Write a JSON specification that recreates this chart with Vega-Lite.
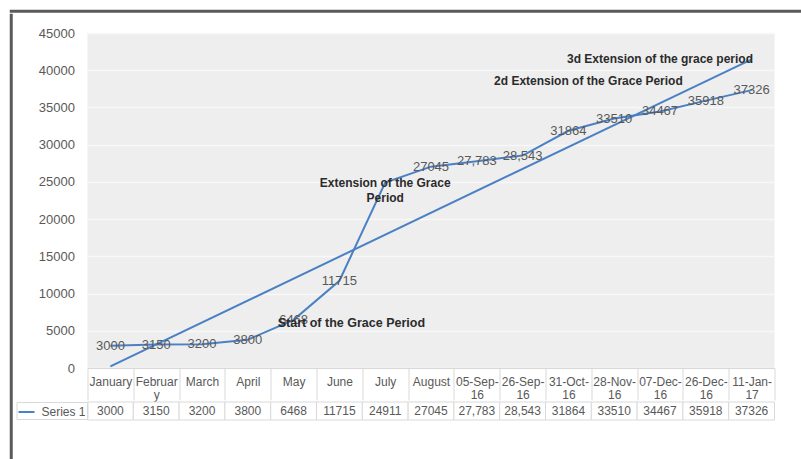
{
  "$schema": "https://vega.github.io/schema/vega-lite/v6.json",
  "padding": {"left": 9, "top": 9, "right": 0, "bottom": 0},
  "background": "white",
  "config": {"font": "Liberation Sans", "view": {"stroke": null}},
  "datasets": {
    "series": [
      {"month": "January", "value": 3000, "label": "3000"},
      {"month": "February", "value": 3150, "label": "3150"},
      {"month": "March", "value": 3200, "label": "3200"},
      {"month": "April", "value": 3800, "label": "3800"},
      {"month": "May", "value": 6468, "label": "6468"},
      {"month": "June", "value": 11715, "label": "11715"},
      {"month": "July", "value": 24911, "label": "24911"},
      {"month": "August", "value": 27045, "label": "27045"},
      {"month": "05-Sep-16", "value": 27783, "label": "27,783"},
      {"month": "26-Sep-16", "value": 28543, "label": "28,543"},
      {"month": "31-Oct-16", "value": 31864, "label": "31864"},
      {"month": "28-Nov-16", "value": 33510, "label": "33510"},
      {"month": "07-Dec-16", "value": 34467, "label": "34467"},
      {"month": "26-Dec-16", "value": 35918, "label": "35918"},
      {"month": "11-Jan-17", "value": 37326, "label": "37326"}
    ],
    "trend": [
      {"month": "January", "value": 228},
      {"month": "11-Jan-17", "value": 41466}
    ],
    "notes": [
      {"month": "June", "value": 6050, "note": "Start of the Grace Period"},
      {"month": "July", "value": 24790, "note": "Extension of the Grace\nPeriod"},
      {"month": "31-Oct-16", "value": 38550, "note": "2d Extension of the Grace Period"},
      {"month": "07-Dec-16", "value": 41520, "note": "3d Extension of the grace period"}
    ],
    "empty": []
  },
  "spacing": 0,
  "resolve": {"legend": {"color": "independent"}, "scale": {"color": "independent"}},
  "vconcat": [
    {
      "width": 792, "height": 0.5,
      "data": {"name": "empty"},
      "mark": "point",
      "view": {"stroke": "#5a5a5a", "strokeWidth": 2.5}
    },
    {
      "spacing": 2.5,
      "resolve": {"legend": {"color": "independent"}, "scale": {"color": "independent"}},
      "hconcat": [
        {
          "width": 0.5, "height": 460,
          "data": {"name": "empty"},
          "mark": "point",
          "view": {"stroke": "#5a5a5a", "strokeWidth": 2.5}
        },
        {
          "spacing": 0,
          "resolve": {"legend": {"color": "independent"}, "scale": {"color": "independent"}},
          "vconcat": [
            {
              "width": 687, "height": 12,
              "data": {"name": "empty"},
              "mark": "point"
            },
            {
              "width": 687,
              "height": 335,
              "view": {"fill": "#eeeeee", "stroke": null},
              "encoding": {
                "x": {
                  "field": "month", "type": "ordinal", "sort": null, "bandPosition": 0.5,
                  "scale": {"type": "band", "paddingInner": 0, "paddingOuter": 0,
                    "domain": ["January", "February", "March", "April", "May", "June", "July", "August", "05-Sep-16", "26-Sep-16", "31-Oct-16", "28-Nov-16", "07-Dec-16", "26-Dec-16", "11-Jan-17"]},
                  "axis": {
                    "title": null, "orient": "bottom", "labelAngle": 0,
                    "labelExpr": "length(datum.label) > 7 ? [slice(datum.label, 0, 7), slice(datum.label, 7)] : datum.label",
                    "labelBaseline": "middle", "labelLineHeight": 13, "labelPadding": -19,
                    "tickBand": "extent", "tickSize": 32, "tickColor": "#d9d9d9", "domainColor": "#d9d9d9",
                    "labelColor": "#595959", "labelFontSize": 12, "grid": false,
                    "labelOverlap": false, "labelBound": false, "labelFlush": false
                  }
                },
                "y": {
                  "field": "value", "type": "quantitative",
                  "scale": {"domain": [0, 45000], "nice": false, "zero": true},
                  "axis": {
                    "title": null,
                    "values": [0, 5000, 10000, 15000, 20000, 25000, 30000, 35000, 40000, 45000],
                    "format": "d",
                    "ticks": false, "domain": false, "labelPadding": 13, "labelFontSize": 13, "labelColor": "#595959",
                    "gridColor": "#f8f8f8", "gridWidth": 1.5
                  }
                }
              },
              "layer": [
                {"data": {"name": "trend"}, "mark": {"type": "line", "color": "#4a80c4", "strokeWidth": 2}},
                {"data": {"name": "series"}, "mark": {"type": "line", "color": "#4a80c4", "strokeWidth": 2}},
                {
                  "data": {"name": "series"},
                  "transform": [{"filter": "datum.month != 'July'"}],
                  "mark": {"type": "text", "fontSize": 13, "color": "#595959", "baseline": "middle"},
                  "encoding": {"text": {"field": "label"}}
                },
                {
                  "data": {"name": "notes"},
                  "transform": [{"filter": "datum.month == 'July' || datum.month == '07-Dec-16'"}],
                  "mark": {"type": "text", "fontSize": 12, "fontWeight": "bold", "color": "#2b2b2b", "baseline": "middle", "lineBreak": "\n", "lineHeight": 15},
                  "encoding": {"text": {"field": "note"}}
                },
                {
                  "data": {"name": "notes"},
                  "transform": [{"filter": "datum.month == 'June'"}],
                  "mark": {"type": "text", "fontSize": 12.5, "fontWeight": "bold", "color": "#2b2b2b", "baseline": "middle", "dx": 12},
                  "encoding": {"text": {"field": "note"}}
                },
                {
                  "data": {"name": "notes"},
                  "transform": [{"filter": "datum.month == '31-Oct-16'"}],
                  "mark": {"type": "text", "fontSize": 12, "fontWeight": "bold", "color": "#2b2b2b", "baseline": "middle", "dx": 20},
                  "encoding": {"text": {"field": "note"}}
                }
              ]
            },
            {
              "width": 687,
              "height": 18,
              "data": {"name": "series"},
              "encoding": {
                "x": {
                  "field": "month", "type": "ordinal", "sort": null, "bandPosition": 0.5,
                  "scale": {"type": "band", "paddingInner": 0, "paddingOuter": 0,
                    "domain": ["January", "February", "March", "April", "May", "June", "July", "August", "05-Sep-16", "26-Sep-16", "31-Oct-16", "28-Nov-16", "07-Dec-16", "26-Dec-16", "11-Jan-17"]},
                  "axis": null
                }
              },
              "layer": [
                {"mark": {"type": "rect", "fill": "white", "stroke": "#d9d9d9", "strokeWidth": 1}},
                {"mark": {"type": "text", "fontSize": 12, "color": "#595959", "baseline": "middle"}, "encoding": {"text": {"field": "label"}}},
                {
                  "transform": [{"filter": "false"}],
                  "mark": {"type": "line", "strokeWidth": 2},
                  "encoding": {
                    "color": {
                      "datum": "Series 1",
                      "scale": {"range": ["#4a80c4"]},
                      "legend": {
                        "title": null, "orient": "left", "offset": 0, "symbolType": "stroke", "symbolSize": 256,
                        "symbolStrokeWidth": 2, "labelFontSize": 12, "labelColor": "#595959", "labelOffset": 6,
                        "padding": 1, "strokeColor": "#d9d9d9"
                      }
                    }
                  }
                }
              ]
            }
          ]
        }
      ]
    }
  ]
}
